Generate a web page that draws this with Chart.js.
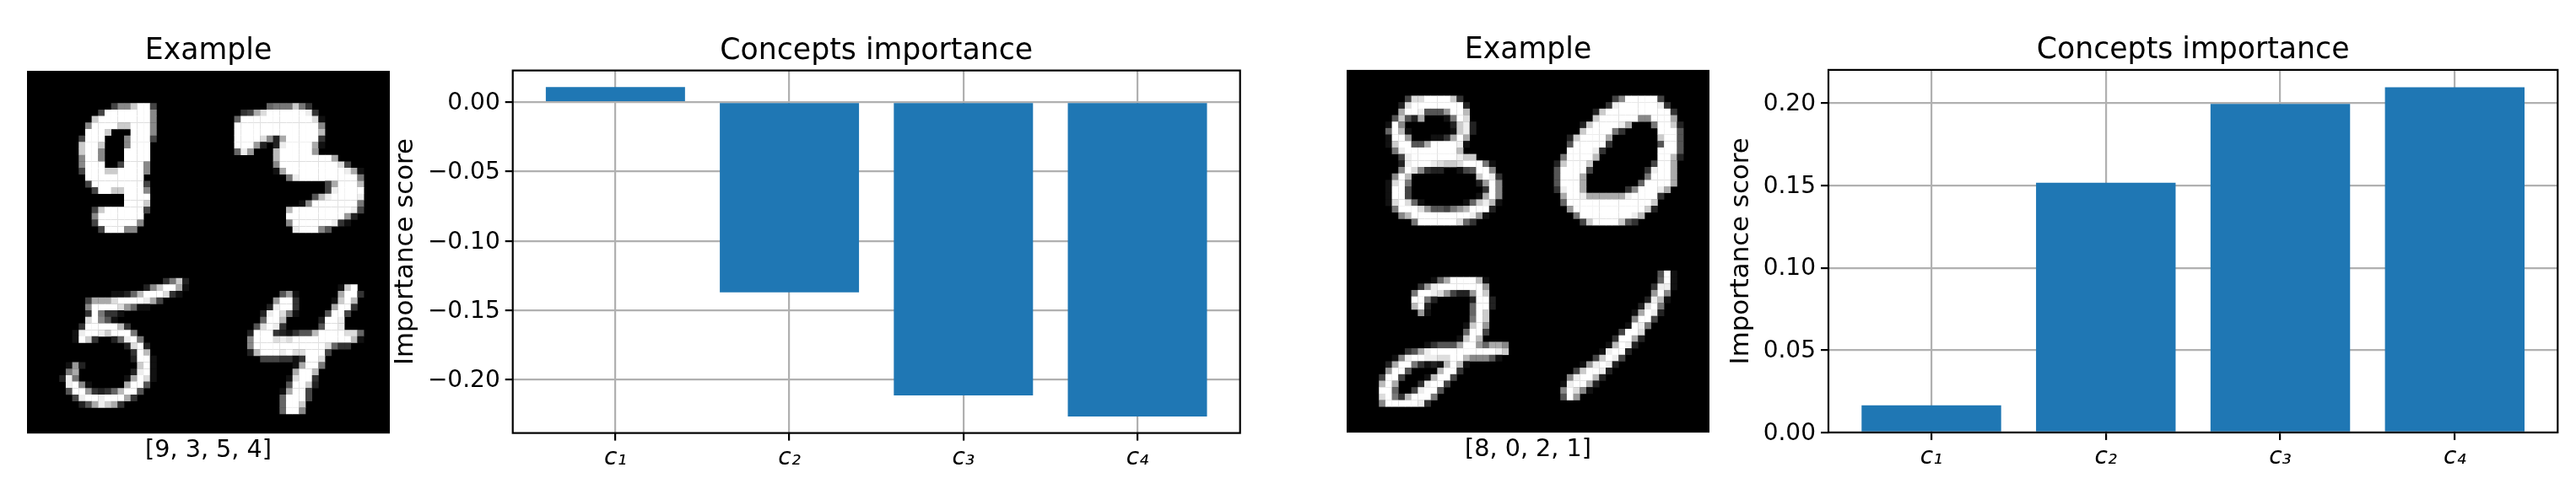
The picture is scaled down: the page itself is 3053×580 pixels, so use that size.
<!DOCTYPE html>
<html>
<head>
<meta charset="utf-8">
<title>Concepts importance</title>
<script src="https://cdn.jsdelivr.net/npm/chart.js@4/dist/chart.umd.min.js"></script>
<style>
    html, body { margin: 0; padding: 0; background: #fff; }
    body { position: relative; width: 3053px; height: 580px; overflow: hidden; }
    canvas { position: absolute; top: 0; display: block; }
</style>
</head>
<body>
<canvas id="imageLeft" width="430" height="580" style="left:32px"></canvas>
<canvas id="barsLeft" width="1010" height="580" style="left:462px"></canvas>
<canvas id="imageRight" width="430" height="580" style="left:1596px"></canvas>
<canvas id="barsRight" width="1003" height="580" style="left:2030px"></canvas>
<script>
// Bar values
const categories = ['c₁', 'c₂', 'c₃', 'c₄'];
const scoresLeft = [0.0109, -0.1370, -0.2112, -0.2264];
const scoresRight = [0.0164, 0.1517, 0.1995, 0.2097];
const ticksLeft = [-0.20, -0.15, -0.10, -0.05, 0.00];
const ticksRight = [0.00, 0.05, 0.10, 0.15, 0.20];

const imageLabelLeft = '[9, 3, 5, 4]';
const imageLabelRight = '[8, 0, 2, 1]';

// Digit cells, one string per row: 'first column|gray levels in hex'
const digit9 = ['', '', '', '', '',
    '13|488cff4', '11|4fffffff8', '10|cffffffff8', '9|8ffffccfff8', '9|fffc000fff8',
    '8|4fff0008fff4', '8|cffc0008fff', '8|cff8000ffff', '8|8ff8000ffff', '8|8fff004fff8',
    '8|4fffccffff8', '9|fffffffff', '9|4ffffffff4', '10|4ffccfff8', '15|ffff',
    '15|fffc', '10|4cffffff4', '10|8fffffff', '10|4ffffff8', '11|4fff88'];
const digit3 = ['', '', '', '', '',
    '9|6777c73', '5|34adffffffe3', '4|6fffffffffffd1', '4|fffffffffffff8', '4|fffffffffffffb',
    '4|ffffd82afffff3', '4|fff9202effffa1', '4|6e9000bfffff9', '10|bffffffffa', '10|8fffffffffd4',
    '10|1afffffffffea1', '12|7efffffffff7', '18|4afffb', '18|4effff', '16|5beffffe',
    '14|18fffffff7', '12|bfffffffffe4', '12|fffffffff92', '12|8ffffffe31', '13|efff85'];
const digit5 = ['', '', '', '',
    '21|37c2', '18|28cffa1', '13|1126bfffd31', '9|4aaadffffea4', '9|8ffffd9611',
    '9|3f7331', '9|df851', '8|3fffffb3', '7|1effecfff7', '7|1fc30026ef7',
    '15|2df2', '16|3fb', '16|2ff1', '6|19200000000cf1', '6|7a000000002ef1',
    '5|2e700000001afd1', '6|ef8100000aff5', '6|5ff93236bff5', '7|4effefffa3', '8|25aeca3'];
const digit4 = ['', '', '', '', '',
    '20|1cf', '11|591000000aff3', '10|9ff3000001cfb', '9|2eff300000aff3', '8|2efd7100005ff4',
    '8|6ffb000002ffe', '7|5dfe3000005ffe', '6|2fff321355bffffdd6', '6|8fffdedfffffffffb1', '6|8fffffffffffd633',
    '6|2bfffefddfff4', '8|4443313ffd', '13|1aff7', '13|affb', '12|1dff3',
    '12|5ffc2', '11|1aff4', '11|6fff4', '11|6ffc', '11|6ff8'];
const digit8 = ['', '', '', '',
    '9|4ddffffc3', '8|2dffffffff2', '8|affe5559ffb', '7|5c52a00017fd', '6|1f800000002ce2',
    '6|6fb10000001ce2', '6|1ff9000113afa', '6|1cff55affffe1', '7|7effffffffb', '8|4efffffffecc',
    '8|2efffedccdfff71', '8|8fd832200145ff8', '7|8fb0000000000cfe3', '6|1df7000000000029f8', '6|1ff4000000000003f8',
    '6|1ff400000000001af8', '6|1dfd6100000016ceb1', '7|7fffd955479bfff2', '8|8bfffffffffe91', '10|7ffffffd63'];
const digit0 = ['', '', '', '',
    '13|48fffff4', '12|3effffffe3', '10|2cffffffffff3', '10|cffffff88fffa', '8|2cffffea0007ffc2',
    '8|cffff7300000fff5', '6|2cffffa0000000cff5', '6|5fffff300000005ff5', '6|ffffe300000000fff5', '5|7ffffb000000000ffb2',
    '4|2cfffc0000000004ffa', '4|5ffff4000000003effa', '4|5fffa0000000007fffa', '4|5fffa000000006ffffa', '4|3effa00000038fffea',
    '5|affeaaaaaaeffff3', '5|6fffffffffffffc', '6|9fffffffffffc2', '7|7ffffffffeb', '8|4cffffc53'];
const digit2 = ['', '', '', '',
    '13|16affffb1', '11|39efffffff9', '10|7ffed94229fc', '10|ff72000002ff2', '10|bf20000006ff2',
    '11|910000006fc', '19|7fc', '18|1cf9', '18|6ff4', '17|1cfb',
    '12|13555aff96aa8', '9|35aeffffffffffec', '7|18effeeddffb88851', '6|2aff73121bfb1', '6|9ff50000bff3',
    '5|4ff40001bff4', '5|bfa0003eff4', '5|ff6004eff5', '5|df73bfff7', '5|8fffffe3'];
const digit1 = ['', '', '',
    '20|5f1', '20|6f1', '19|3ee1', '19|9f8', '18|2eb1', '17|2df7', '16|1afe2',
    '16|8ff4', '15|1fe7', '14|4ffd', '13|3ffa2', '12|1bfe2', '11|1eff2', '10|4cfe4',
    '8|19efe2', '7|4cffe2', '6|8effb2', '5|1effa2', '5|8fd81', '5|5f9'];

const FONT = '"DejaVu Sans", sans-serif';

// Turn the four digit tiles into scatter cells on a 56 x 56 grid
function buildCells(tiles) {
    const cells = [];
    tiles.forEach(function(rows, tile) {
        const colShift = tile % 2 * 28;
        const rowShift = Math.floor(tile / 2) * 28;
        rows.forEach(function(row, r) {
            if (!row) return;
            const parts = row.split('|');
            Array.from(parts[1]).forEach(function(level, c) {
                const v = parseInt(level, 16);
                if (v > 0) {
                    cells.push({ x: Number(parts[0]) + c + colShift + 0.5, y: r + rowShift + 0.5, v: v });
                }
            });
        });
    });
    return cells;
}

// Black picture background under the cells
const blackBackground = {
    id: 'blackBackground',
    beforeDatasetsDraw(chart) {
        const a = chart.chartArea;
        chart.ctx.fillStyle = '#000';
        chart.ctx.fillRect(a.left, a.top, a.width, a.height);
    }
};

// Matplotlib style box round the axes
const axesFrame = {
    id: 'axesFrame',
    afterDatasetsDraw(chart) {
        const a = chart.chartArea;
        const ctx = chart.ctx;
        ctx.save();
        ctx.strokeStyle = '#000';
        ctx.lineWidth = 2.2;
        ctx.strokeRect(a.left, a.top, a.width, a.height);
        ctx.restore();
    }
};

function titleOptions(text, plotTop) {
    return {
        display: true,
        text: text,
        fullSize: false,
        color: '#000',
        font: { family: FONT, size: 34.7, weight: 'normal', lineHeight: 1 },
        padding: { top: plotTop - 40.3, bottom: 5.6 }
    };
}

function drawImagePanel(id, tiles, label, plotTop, plotBottom, labelPad) {
    new Chart(document.getElementById(id), {
        type: 'scatter',
        data: {
            datasets: [{
                data: buildCells(tiles),
                pointStyle: 'rect',
                pointRadius: 8 / Math.SQRT2,
                pointHoverRadius: 8 / Math.SQRT2,
                pointBorderWidth: 0,
                pointBackgroundColor: function(context) {
                    const g = context.raw.v * 17;
                    return `rgb(${g},${g},${g})`;
                }
            }]
        },
        options: {
            responsive: false,
            animation: false,
            layout: { padding: 0, autoPadding: false },
            plugins: {
                legend: { display: false },
                tooltip: { enabled: false },
                title: titleOptions('Example', plotTop)
            },
            scales: {
                x: {
                    type: 'linear',
                    min: 0,
                    max: 56,
                    grid: { display: false },
                    border: { display: false },
                    ticks: { display: false },
                    title: {
                        display: true,
                        text: label,
                        color: '#000',
                        font: { family: FONT, size: 28.7, lineHeight: 1 },
                        padding: { top: 0, bottom: labelPad }
                    },
                    afterFit: function(scale) { scale.height = 580 - plotBottom; }
                },
                y: { type: 'linear', display: false, reverse: true, min: 0, max: 56 }
            }
        },
        plugins: [blackBackground]
    });
}

function drawBarPanel(id, scores, tickValues, yMin, yMax, plotTop, plotBottom, axisWidth, labelPad, rightPad) {
    new Chart(document.getElementById(id), {
        type: 'bar',
        data: {
            datasets: [{
                data: scores.map(function(y, i) { return { x: i, y: y }; }),
                backgroundColor: '#1f77b4',
                borderWidth: 0,
                barPercentage: 0.8,
                categoryPercentage: 1
            }]
        },
        options: {
            responsive: false,
            animation: false,
            layout: { padding: { right: rightPad }, autoPadding: false },
            plugins: {
                legend: { display: false },
                tooltip: { enabled: false },
                title: titleOptions('Concepts importance', plotTop)
            },
            scales: {
                x: {
                    type: 'linear',
                    min: -0.59,
                    max: 3.59,
                    offset: false,
                    grid: { offset: false, color: '#b0b0b0', lineWidth: 2.2, tickColor: '#000', tickWidth: 2.2, tickLength: 9 },
                    border: { display: false },
                    ticks: {
                        autoSkip: false,
                        maxRotation: 0,
                        padding: 7,
                        color: '#000',
                        font: { family: FONT, size: 28, style: 'italic', lineHeight: 1 },
                        callback: function(value) { return categories[value]; }
                    },
                    afterBuildTicks: function(scale) {
                        scale.ticks = categories.map(function(c, i) { return { value: i }; });
                    },
                    afterFit: function(scale) { scale.height = 580 - plotBottom; }
                },
                y: {
                    type: 'linear',
                    min: yMin,
                    max: yMax,
                    grid: { color: '#b0b0b0', lineWidth: 2.2, tickColor: '#000', tickWidth: 2.2, tickLength: 9 },
                    border: { display: false },
                    ticks: {
                        autoSkip: false,
                        padding: 6,
                        labelOffset: 1.5,
                        color: '#000',
                        font: { family: FONT, size: 28, lineHeight: 1 },
                        callback: function(value) { return value.toFixed(2).replace('-', '\u2212'); }
                    },
                    afterBuildTicks: function(scale) {
                        scale.ticks = tickValues.map(function(v) { return { value: v }; });
                    },
                    title: {
                        display: true,
                        text: 'Importance score',
                        color: '#000',
                        font: { family: FONT, size: 30.8, lineHeight: 1 },
                        padding: { top: labelPad, bottom: 0 }
                    },
                    afterFit: function(scale) { scale.width = axisWidth; }
                }
            }
        },
        plugins: [axesFrame]
    });
}

document.addEventListener('DOMContentLoaded', function() {
    drawImagePanel('imageLeft', [digit9, digit3, digit5, digit4], imageLabelLeft, 84, 514.2, 31);
    drawBarPanel('barsLeft', scoresLeft, ticksLeft, -0.2383, 0.0228, 83.6, 513.6, 145.7, 4, 2.3);
    drawImagePanel('imageRight', [digit8, digit0, digit2, digit1], imageLabelRight, 82.9, 513.1, 32);
    drawBarPanel('barsRight', scoresRight, ticksRight, 0, 0.2202, 82.9, 512.9, 137, 18.5, 1.7);
});
</script>
</body>
</html>
